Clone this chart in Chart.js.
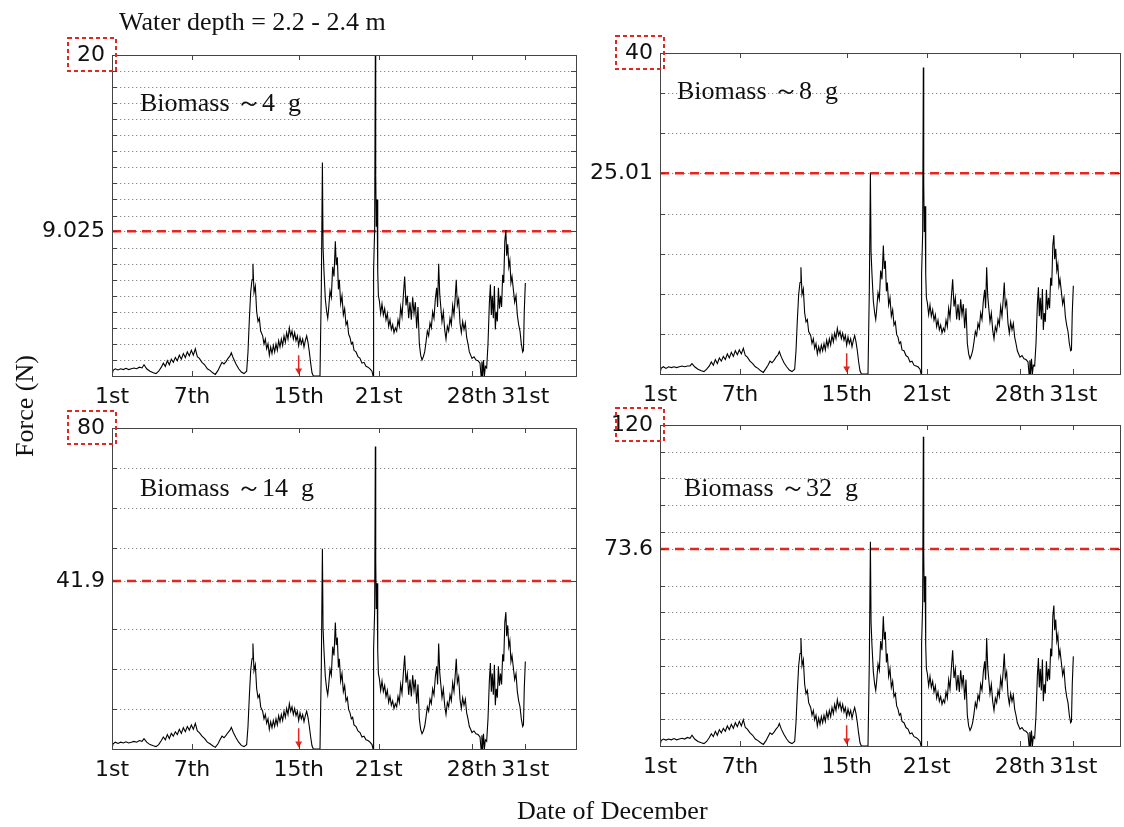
<!DOCTYPE html>
<html>
<head>
<meta charset="utf-8">
<script src="https://cdn.jsdelivr.net/npm/chart.js@4.4.1/dist/chart.umd.min.js"></script>
<style>
body { margin: 0; background: #fff; }
#page { position: relative; width: 1124px; height: 827px; overflow: hidden; background: #fff; }
canvas { position: absolute; }
.lbl { position: absolute; font-family: 'Liberation Serif', 'Times New Roman', serif; font-size: 26px; line-height: 26px; color: #111; white-space: pre; }
</style>
</head>
<body>
<div id="page">
  <canvas id="c1"></canvas>
  <canvas id="c2"></canvas>
  <canvas id="c3"></canvas>
  <canvas id="c4"></canvas>
  <div class="lbl" style="left:119px; top:9px;">Water depth = 2.2 - 2.4 m</div>
  <div class="lbl" style="left:140px; top:90px;">Biomass ～4  g</div>
  <div class="lbl" style="left:677px; top:78px;">Biomass ～8  g</div>
  <div class="lbl" style="left:140px; top:475px;">Biomass ～14  g</div>
  <div class="lbl" style="left:684px; top:475px;">Biomass ～32  g</div>
  <div class="lbl" style="left:-35px; top:393px; width:120px; text-align:center; transform:rotate(-90deg);">Force (N)</div>
  <div class="lbl" style="left:517px; top:798px;">Date of December</div>
</div>
<script>
// time of record, in days of December
const day = [
  1, 1.08, 1.25, 1.45, 1.65, 1.85, 2.05, 2.25, 2.45, 2.65,
  2.85, 3.05, 3.25, 3.4, 3.6, 3.85, 4.1, 4.3, 4.5, 4.7,
  4.85, 5, 5.15, 5.3, 5.45, 5.6, 5.75, 5.9, 6.05, 6.2,
  6.35, 6.5, 6.65, 6.8, 6.95, 7.1, 7.25, 7.4, 7.55, 7.75,
  7.95, 8.15, 8.35, 8.55, 8.75, 8.95, 9.1, 9.25, 9.4, 9.55,
  9.7, 9.85, 9.95, 10.1, 10.3, 10.5, 10.7, 10.9, 11.1, 11.2,
  11.3, 11.4, 11.5, 11.57, 11.65, 11.75, 11.85, 11.95, 12.05, 12.15,
  12.3, 12.4, 12.5, 12.6, 12.7, 12.8, 12.9, 13, 13.1, 13.2,
  13.3, 13.4, 13.5, 13.6, 13.7, 13.8, 13.9, 14, 14.1, 14.2,
  14.3, 14.4, 14.5, 14.6, 14.7, 14.8, 14.9, 15, 15.1, 15.2,
  15.3, 15.4, 15.5, 15.6, 15.7, 15.8, 15.9, 16, 16.1, 16.6,
  16.7, 16.78, 16.83, 16.9, 17, 17.1, 17.18, 17.25, 17.35, 17.45,
  17.55, 17.65, 17.75, 17.82, 17.9, 17.98, 18.05, 18.15, 18.25, 18.35,
  18.45, 18.55, 18.65, 18.75, 18.85, 18.95, 19.05, 19.15, 19.3, 19.45,
  19.6, 19.75, 19.9, 20.05, 20.2, 20.35, 20.5, 20.58, 20.62, 20.7,
  20.75, 20.78, 20.82, 20.88, 20.93, 20.98, 21.05, 21.15, 21.25, 21.35,
  21.45, 21.55, 21.65, 21.75, 21.85, 21.95, 22.05, 22.15, 22.25, 22.35,
  22.45, 22.55, 22.65, 22.75, 22.85, 22.95, 23.05, 23.15, 23.25, 23.35,
  23.45, 23.55, 23.65, 23.75, 23.85, 23.95, 24.05, 24.15, 24.25, 24.35,
  24.45, 24.55, 24.65, 24.75, 24.85, 24.95, 25.05, 25.15, 25.25, 25.35,
  25.42, 25.5, 25.58, 25.65, 25.75, 25.85, 25.95, 26.05, 26.15, 26.25,
  26.35, 26.45, 26.55, 26.65, 26.75, 26.82, 26.9, 27, 27.1, 27.2,
  27.3, 27.4, 27.5, 27.6, 27.7, 27.8, 27.9, 28, 28.15, 28.3,
  28.45, 28.6, 28.68, 28.74, 28.8, 28.86, 28.93, 29, 29.1, 29.2,
  29.3, 29.38, 29.45, 29.52, 29.6, 29.68, 29.75, 29.82, 29.9, 29.98,
  30.06, 30.14, 30.22, 30.3, 30.38, 30.46, 30.54, 30.6, 30.68, 30.76,
  30.84, 30.92, 31, 31.1, 31.2, 31.3, 31.4, 31.5, 31.6, 31.7,
  31.8, 31.86, 31.92, 32
];

// force (N), biomass ~4 g
const force4g = [
  0, 0.35, 0.45, 0.38, 0.45, 0.4, 0.48, 0.4, 0.45, 0.5,
  0.45, 0.55, 0.5, 0.7, 0.45, 0.3, 0.2, 0.15, 0.3, 0.55,
  0.8, 0.6, 0.95, 0.7, 1.05, 0.85, 1.15, 0.95, 1.3, 1.05,
  1.4, 1.15, 1.5, 1.25, 1.6, 1.3, 1.7, 1.2, 1.1, 0.85,
  0.7, 0.45, 0.35, 0.2, 0.1, 0.35, 0.6, 0.85, 0.75, 0.9,
  1.1, 1.25, 1.45, 1.1, 0.75, 0.45, 0.25, 0.15, 0.3, 1.5,
  3.5, 5.2, 6.0, 7.0, 5.2, 5.6, 4.0, 3.4, 3.6, 2.8,
  2.5, 2.0, 2.3, 1.7, 2.0, 1.3, 1.8, 1.4, 1.9, 1.5,
  2.0, 1.6, 2.2, 1.8, 2.3, 1.9, 2.5, 2.1, 2.7, 2.3,
  3.0, 2.5, 2.8, 2.3, 2.7, 2.2, 2.5, 1.9, 2.4, 2.0,
  2.3, 1.8, 2.2, 2.5, 2.1, 1.5, 0.8, 0.2, 0, 0,
  5.5, 13.3, 8.0, 6.5, 4.8, 4.0, 3.6, 4.2, 5.3, 4.9,
  6.8, 6.2, 8.4, 6.9, 7.4, 5.4, 6.0, 4.5, 5.0, 3.8,
  4.2, 3.2, 3.4, 2.6, 2.4, 2.0, 2.1, 1.6, 1.5, 1.2,
  1.1, 0.8, 0.85, 0.6, 0.55, 0.45, 0.3, 0, 6.6, 9.2,
  20.1, 12.5, 9.3, 11.0, 6.5, 5.0, 4.7, 3.9, 4.5, 3.8,
  4.2, 3.5, 3.9, 3.1, 3.5, 2.9, 3.2, 2.7, 3.0, 2.8,
  3.5, 3.1, 4.3, 3.7, 5.0, 6.2, 4.4, 5.0, 3.6, 4.6,
  3.5, 4.9, 3.9, 4.6, 3.0, 4.3, 2.0, 1.3, 1.0, 1.2,
  1.5, 2.1, 2.8, 2.5, 3.3, 3.0, 4.0, 3.6, 4.8, 5.5,
  4.3, 7.0, 5.1, 4.4, 3.4, 4.0, 2.9, 2.3, 3.1, 2.8,
  3.6, 3.2, 4.4, 3.8, 5.0, 6.0, 4.4, 4.8, 3.3, 2.7,
  3.4, 2.9, 3.3, 2.4, 2.0, 1.5, 1.3, 1.1, 1.2, 1.0,
  0.95, 0.8, 0, 0.9, 0, 1.0, 0, 0.6, 0.5, 2.0,
  4.5, 5.7, 3.8, 5.0, 3.6, 5.6, 2.9, 4.0, 3.4, 5.5,
  4.2, 5.0, 4.3, 6.3, 5.8, 8.4, 9.1, 7.5, 8.2, 6.8,
  7.2, 5.8, 6.2, 5.4, 4.6, 5.0, 3.8, 3.2, 2.8, 2.0,
  1.5, 1.6, 4.0, 5.8
];

// force (N), biomass ~8 g
const force8g = [
  0, 0.7, 0.9, 0.7, 0.9, 0.8, 0.9, 0.8, 0.9, 1.0,
  0.9, 1.0, 1.0, 1.3, 0.9, 0.6, 0.4, 0.3, 0.6, 1.0,
  1.5, 1.1, 1.8, 1.3, 2.0, 1.6, 2.2, 1.8, 2.5, 2.0,
  2.7, 2.2, 2.9, 2.4, 3.0, 2.5, 3.2, 2.3, 2.1, 1.6,
  1.3, 0.9, 0.7, 0.4, 0.2, 0.7, 1.1, 1.6, 1.4, 1.7,
  2.1, 2.4, 2.8, 2.1, 1.4, 0.9, 0.5, 0.3, 0.6, 2.9,
  6.7, 9.9, 11.4, 13.3, 9.9, 10.6, 7.6, 6.5, 6.8, 5.3,
  4.8, 3.8, 4.4, 3.2, 3.8, 2.5, 3.4, 2.7, 3.6, 2.9,
  3.8, 3.0, 4.2, 3.4, 4.4, 3.6, 4.8, 4.0, 5.1, 4.4,
  5.7, 4.8, 5.3, 4.4, 5.1, 4.2, 4.8, 3.6, 4.6, 3.8,
  4.4, 3.4, 4.2, 4.8, 4.0, 2.9, 1.5, 0.4, 0, 0,
  10.5, 25.0, 15.2, 12.4, 9.1, 7.6, 6.8, 8.0, 10.1, 9.3,
  12.9, 11.8, 16.0, 13.1, 14.1, 10.3, 11.4, 8.6, 9.5, 7.2,
  8.0, 6.1, 6.5, 4.9, 4.6, 3.8, 4.0, 3.0, 2.9, 2.3,
  2.1, 1.5, 1.6, 1.1, 1.0, 0.9, 0.6, 0, 12.5, 17.5,
  38.2, 23.8, 17.7, 20.9, 12.4, 9.5, 8.9, 7.4, 8.6, 7.2,
  8.0, 6.7, 7.4, 5.9, 6.7, 5.5, 6.1, 5.1, 5.7, 5.3,
  6.7, 5.9, 8.2, 7.0, 9.5, 11.8, 8.4, 9.5, 6.8, 8.7,
  6.7, 9.3, 7.4, 8.7, 5.7, 8.2, 3.8, 2.5, 1.9, 2.3,
  2.9, 4.0, 5.3, 4.8, 6.3, 5.7, 7.6, 6.8, 9.1, 10.5,
  8.2, 13.3, 9.7, 8.4, 6.5, 7.6, 5.5, 4.4, 5.9, 5.3,
  6.8, 6.1, 8.4, 7.2, 9.5, 11.4, 8.4, 9.1, 6.3, 5.1,
  6.5, 5.5, 6.3, 4.6, 3.8, 2.9, 2.5, 2.1, 2.3, 1.9,
  1.8, 1.5, 0, 1.7, 0, 1.9, 0, 1.1, 1.0, 3.8,
  8.6, 10.8, 7.2, 9.5, 6.8, 10.6, 5.5, 7.6, 6.5, 10.5,
  8.0, 9.5, 8.2, 12.0, 11.0, 16.0, 17.3, 14.3, 15.6, 12.9,
  13.7, 11.0, 11.8, 10.3, 8.7, 9.5, 7.2, 6.1, 5.3, 3.8,
  2.9, 3.0, 7.6, 11.0
];

// force (N), biomass ~14 g
const force14g = [
  0, 1.3, 1.7, 1.4, 1.7, 1.5, 1.8, 1.5, 1.7, 1.9,
  1.7, 2.1, 1.9, 2.6, 1.7, 1.1, 0.8, 0.6, 1.1, 2.1,
  3.0, 2.3, 3.6, 2.6, 3.9, 3.2, 4.3, 3.6, 4.9, 3.9,
  5.3, 4.3, 5.6, 4.7, 6.0, 4.9, 6.4, 4.5, 4.1, 3.2,
  2.6, 1.7, 1.3, 0.8, 0.4, 1.3, 2.3, 3.2, 2.8, 3.4,
  4.1, 4.7, 5.4, 4.1, 2.8, 1.7, 0.9, 0.6, 1.1, 5.6,
  13.1, 19.5, 22.5, 26.3, 19.5, 21.0, 15.0, 12.8, 13.5, 10.5,
  9.4, 7.5, 8.6, 6.4, 7.5, 4.9, 6.8, 5.3, 7.1, 5.6,
  7.5, 6.0, 8.3, 6.8, 8.6, 7.1, 9.4, 7.9, 10.1, 8.6,
  11.3, 9.4, 10.5, 8.6, 10.1, 8.3, 9.4, 7.1, 9.0, 7.5,
  8.6, 6.8, 8.3, 9.4, 7.9, 5.6, 3.0, 0.8, 0, 0,
  20.6, 49.9, 30.0, 24.4, 18.0, 15.0, 13.5, 15.8, 19.9, 18.4,
  25.5, 23.3, 31.5, 25.9, 27.8, 20.3, 22.5, 16.9, 18.8, 14.3,
  15.8, 12.0, 12.8, 9.8, 9.0, 7.5, 7.9, 6.0, 5.6, 4.5,
  4.1, 3.0, 3.2, 2.3, 2.1, 1.7, 1.1, 0, 24.8, 34.5,
  75.4, 46.9, 34.9, 41.3, 24.4, 18.8, 17.6, 14.6, 16.9, 14.3,
  15.8, 13.1, 14.6, 11.6, 13.1, 10.9, 12.0, 10.1, 11.3, 10.5,
  13.1, 11.6, 16.1, 13.9, 18.8, 23.3, 16.5, 18.8, 13.5, 17.3,
  13.1, 18.4, 14.6, 17.3, 11.3, 16.1, 7.5, 4.9, 3.8, 4.5,
  5.6, 7.9, 10.5, 9.4, 12.4, 11.3, 15.0, 13.5, 18.0, 20.6,
  16.1, 26.3, 19.1, 16.5, 12.8, 15.0, 10.9, 8.6, 11.6, 10.5,
  13.5, 12.0, 16.5, 14.3, 18.8, 22.5, 16.5, 18.0, 12.4, 10.1,
  12.8, 10.9, 12.4, 9.0, 7.5, 5.6, 4.9, 4.1, 4.5, 3.8,
  3.6, 3.0, 0, 3.4, 0, 3.8, 0, 2.3, 1.9, 7.5,
  16.9, 21.4, 14.3, 18.8, 13.5, 21.0, 10.9, 15.0, 12.8, 20.6,
  15.8, 18.8, 16.1, 23.6, 21.8, 31.5, 34.1, 28.1, 30.8, 25.5,
  27.0, 21.8, 23.3, 20.3, 17.3, 18.8, 14.3, 12.0, 10.5, 7.5,
  5.6, 6.0, 15.0, 21.8
];

// force (N), biomass ~32 g
const force32g = [
  0, 2.0, 2.6, 2.2, 2.6, 2.3, 2.8, 2.3, 2.6, 2.9,
  2.6, 3.2, 2.9, 4.0, 2.6, 1.7, 1.2, 0.9, 1.7, 3.2,
  4.6, 3.5, 5.5, 4.0, 6.1, 4.9, 6.6, 5.5, 7.5, 6.1,
  8.1, 6.6, 8.7, 7.2, 9.2, 7.5, 9.8, 6.9, 6.3, 4.9,
  4.0, 2.6, 2.0, 1.2, 0.6, 2.0, 3.5, 4.9, 4.3, 5.2,
  6.3, 7.2, 8.4, 6.3, 4.3, 2.6, 1.4, 0.9, 1.7, 8.7,
  20.2, 30.0, 34.6, 40.4, 30.0, 32.3, 23.1, 19.6, 20.8, 16.2,
  14.4, 11.5, 13.3, 9.8, 11.5, 7.5, 10.4, 8.1, 11.0, 8.7,
  11.5, 9.2, 12.7, 10.4, 13.3, 11.0, 14.4, 12.1, 15.6, 13.3,
  17.3, 14.4, 16.2, 13.3, 15.6, 12.7, 14.4, 11.0, 13.8, 11.5,
  13.3, 10.4, 12.7, 14.4, 12.1, 8.7, 4.6, 1.2, 0, 0,
  31.7, 76.4, 46.2, 37.5, 27.7, 23.1, 20.8, 24.2, 30.6, 28.3,
  39.2, 35.8, 48.5, 39.8, 42.7, 31.2, 34.6, 26.0, 28.9, 21.9,
  24.2, 18.5, 19.6, 15.0, 13.8, 11.5, 12.1, 9.2, 8.7, 6.9,
  6.3, 4.6, 4.9, 3.5, 3.2, 2.6, 1.7, 0, 38.1, 53.1,
  115.6, 72.1, 53.7, 63.5, 37.5, 28.9, 27.1, 22.5, 26.0, 21.9,
  24.2, 20.2, 22.5, 17.9, 20.2, 16.7, 18.5, 15.6, 17.3, 16.2,
  20.2, 17.9, 24.8, 21.3, 28.9, 35.8, 25.4, 28.9, 20.8, 26.5,
  20.2, 28.3, 22.5, 26.5, 17.3, 24.8, 11.5, 7.5, 5.8, 6.9,
  8.7, 12.1, 16.2, 14.4, 19.0, 17.3, 23.1, 20.8, 27.7, 31.7,
  24.8, 40.4, 29.4, 25.4, 19.6, 23.1, 16.7, 13.3, 17.9, 16.2,
  20.8, 18.5, 25.4, 21.9, 28.9, 34.6, 25.4, 27.7, 19.0, 15.6,
  19.6, 16.7, 19.0, 13.8, 11.5, 8.7, 7.5, 6.3, 6.9, 5.8,
  5.5, 4.6, 0, 5.2, 0, 5.8, 0, 3.5, 2.9, 11.5,
  26.0, 32.9, 21.9, 28.9, 20.8, 32.3, 16.7, 23.1, 19.6, 31.7,
  24.2, 28.9, 24.8, 36.4, 33.5, 48.5, 52.5, 43.3, 47.3, 39.2,
  41.5, 33.5, 35.8, 31.2, 26.5, 28.9, 21.9, 18.5, 16.2, 11.5,
  8.7, 9.2, 23.1, 33.5
];

const tickDays = [1, 7, 15, 21, 28, 32];
const tickNames = ['1st', '7th', '15th', '21st', '28th', '31st'];

const yMax = [20, 40, 80, 120];
const thresholds = [9.025, 25.01, 41.9, 73.6];
const yTicks = [
  [0, 1, 2, 3, 4, 5, 6, 7, 8, 9.025, 10, 11, 12, 13, 14, 15, 16, 17, 18, 19, 20],
  [0, 5, 10, 15, 20, 25.01, 30, 35, 40],
  [0, 10, 20, 30, 41.9, 50, 60, 70, 80],
  [0, 10, 20, 30, 40, 50, 60, 73.6, 80, 90, 100, 110, 120]
];
// red arrow under the 15th (top of shaft, tip)
const arrowFrom = [1.3, 2.6, 5.2, 7.8];
const arrowTo = [0.35, 0.7, 1.4, 2.1];

const series = [force4g, force8g, force14g, force32g];

// where each plot area sits on the page
const panels = [
  { id: 'c1', left: 112, top: 55, w: 464, h: 321, xMax: 35.8 },
  { id: 'c2', left: 660, top: 53, w: 460, h: 321, xMax: 35.5 },
  { id: 'c3', left: 112, top: 428, w: 464, h: 321, xMax: 35.8 },
  { id: 'c4', left: 660, top: 425, w: 460, h: 321, xMax: 35.5 }
];
const PAD_L = 110, PAD_T = 22, PAD_R = 4, PAD_B = 50;
const RED = '#e3261f';

// dotted grid, frame, inner ticks and the red box round the top label
const panelFrame = {
  id: 'panelFrame',
  beforeDatasetsDraw(chart) {
    const { ctx, chartArea: a, scales: { y } } = chart;
    ctx.save();
    ctx.strokeStyle = '#8c8c8c';
    ctx.lineWidth = 1;
    ctx.setLineDash([1.3, 2.7]);
    y.ticks.forEach(t => {
      if (t.value <= 0 || t.value >= y.max) return;
      const py = Math.round(y.getPixelForValue(t.value)) + 0.5;
      ctx.beginPath();
      ctx.moveTo(a.left, py);
      ctx.lineTo(a.right, py);
      ctx.stroke();
    });
    ctx.restore();
  },
  afterDraw(chart) {
    const { ctx, chartArea: a, scales: { x, y } } = chart;
    ctx.save();
    ctx.strokeStyle = '#444';
    ctx.lineWidth = 1;
    ctx.setLineDash([]);
    ctx.strokeRect(Math.round(a.left) + 0.5, Math.round(a.top) + 0.5, Math.round(a.right - a.left), Math.round(a.bottom - a.top));
    ctx.beginPath();
    y.ticks.forEach(t => {
      const py = Math.round(y.getPixelForValue(t.value)) + 0.5;
      ctx.moveTo(a.left, py); ctx.lineTo(a.left + 5, py);
      ctx.moveTo(a.right, py); ctx.lineTo(a.right - 5, py);
    });
    x.ticks.forEach(t => {
      const px = Math.round(x.getPixelForValue(t.value)) + 0.5;
      ctx.moveTo(px, a.top); ctx.lineTo(px, a.top + 5);
      ctx.moveTo(px, a.bottom); ctx.lineTo(px, a.bottom - 5);
    });
    ctx.stroke();
    // red dashed box on the max label
    ctx.strokeStyle = RED;
    ctx.lineWidth = 2;
    ctx.setLineDash([4, 3]);
    ctx.strokeRect(a.left - 44, a.top - 17, 48, 33);
    ctx.restore();
  }
};
Chart.register(panelFrame);

const tickFont = { family: 'DejaVu Sans', size: 22 };

panels.forEach((p, i) => {
  const cv = document.getElementById(p.id);
  cv.width = p.w + PAD_L + PAD_R;
  cv.height = p.h + PAD_T + PAD_B;
  cv.style.left = (p.left - PAD_L) + 'px';
  cv.style.top = (p.top - PAD_T) + 'px';

  new Chart(cv, {
    type: 'line',
    data: {
      datasets: [
        {
          data: day.map((d, k) => ({ x: d, y: series[i][k] })),
          borderColor: '#000',
          borderWidth: 1.1,
          pointRadius: 0,
          tension: 0
        },
        {
          data: [{ x: 1, y: thresholds[i] }, { x: p.xMax, y: thresholds[i] }],
          borderColor: RED,
          borderWidth: 2.5,
          borderDash: [9, 6],
          pointRadius: 0
        },
        {
          data: [{ x: 15, y: arrowFrom[i] }, { x: 15, y: arrowTo[i] }],
          borderColor: RED,
          backgroundColor: RED,
          borderWidth: 1.5,
          pointRadius: [0, 4],
          pointStyle: 'triangle',
          pointRotation: 180,
          pointBorderWidth: 0
        }
      ]
    },
    options: {
      responsive: false,
      animation: false,
      devicePixelRatio: 1,
      layout: { padding: { top: PAD_T, right: PAD_R, left: 0, bottom: 0 } },
      plugins: { legend: { display: false }, tooltip: { enabled: false } },
      scales: {
        x: {
          type: 'linear',
          min: 1,
          max: p.xMax,
          grid: { display: false, drawTicks: false },
          border: { display: false },
          afterBuildTicks: s => { s.ticks = tickDays.map(v => ({ value: v })); },
          afterFit: s => { s.height = PAD_B; },
          ticks: {
            autoSkip: false,
            maxRotation: 0,
            padding: 8,
            color: '#111',
            font: tickFont,
            callback: v => tickNames[tickDays.indexOf(v)]
          }
        },
        y: {
          min: 0,
          max: yMax[i],
          grid: { display: false, drawTicks: false },
          border: { display: false },
          afterBuildTicks: s => { s.ticks = yTicks[i].map(v => ({ value: v })); },
          afterFit: s => { s.width = PAD_L; },
          ticks: {
            autoSkip: false,
            padding: 7,
            color: '#111',
            font: tickFont,
            callback: v => (v === yMax[i] || v === thresholds[i]) ? String(v) : ''
          }
        }
      }
    }
  });
});
</script>
</body>
</html>
